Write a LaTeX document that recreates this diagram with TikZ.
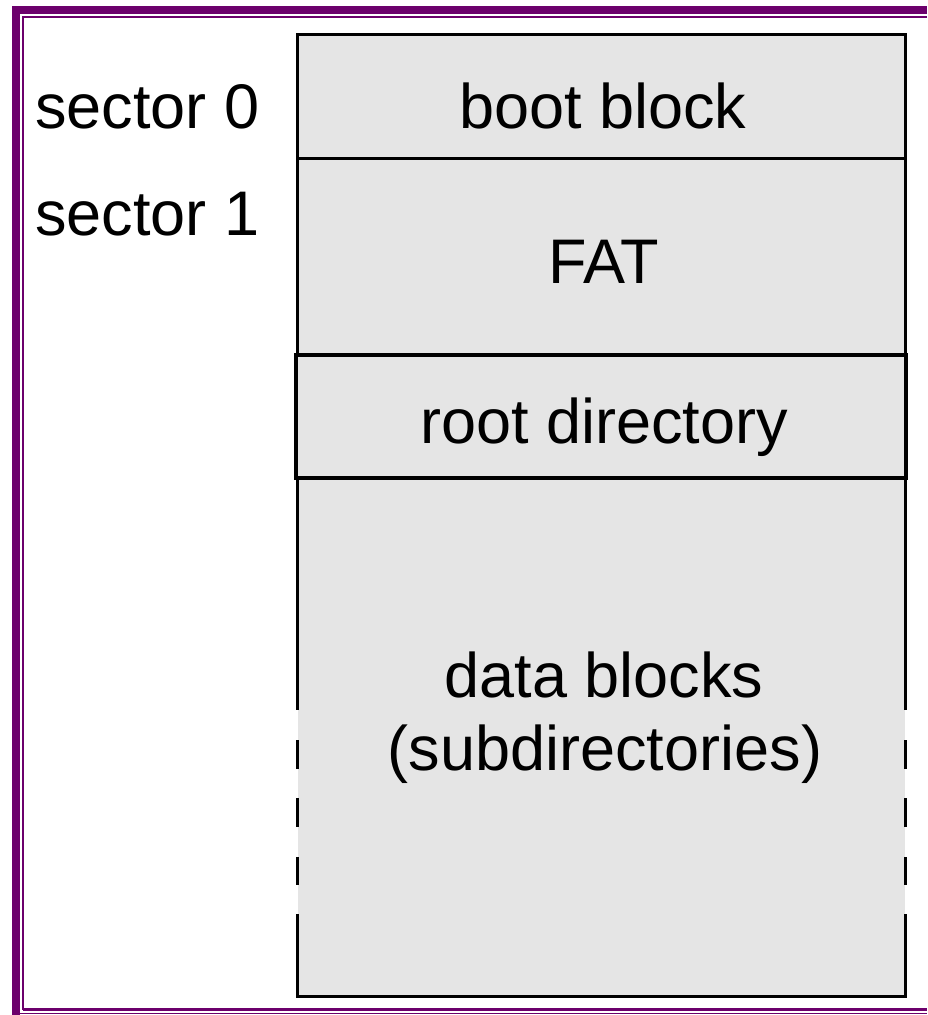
\documentclass[tikz,border=0pt]{standalone}
\usepackage{fontspec}
\setmainfont{Liberation Sans}
\definecolor{framepurple}{RGB}{108,0,108}
\definecolor{blockgray}{RGB}{229,229,229}
\tikzset{
  lbl/.style={inner sep=0pt, font=\fontsize{63}{72}\selectfont, anchor=base},
  side/.style={line width=3pt, draw=black},
  frm/.style={draw=framepurple}
}
\begin{document}
\begin{tikzpicture}[x=1pt,y=-1pt]
\useasboundingbox (0,0) rectangle (927,1015);
% frame
\draw[frm, line width=8pt] (16,1015) -- (16,9.5) -- (927,9.5);
\draw[frm, line width=2pt] (927,17) -- (23,17) -- (23,1009) -- (927,1009);
\draw[frm, line width=3pt] (23,1009) -- (927,1009);
\draw[frm, line width=1.8pt] (20,1013.5) -- (927,1013.5);
% main block
\fill[blockgray] (297.5,34) rectangle (905,996);
\draw[side, line cap=rect] (297.5,34) -- (905,34);
\draw[side, line cap=rect] (297.5,996) -- (905,996);
\draw[side] (297.5,158) -- (905,158);
\foreach \xx in {297.5,905}{
  \draw[side] (\xx,34) -- (\xx,710);
  \draw[side] (\xx,740) -- (\xx,769);
  \draw[side] (\xx,798) -- (\xx,827);
  \draw[side] (\xx,857) -- (\xx,885);
  \draw[side] (\xx,914) -- (\xx,996);
}
% root directory box
\draw[line width=4pt, fill=blockgray] (296,355) rectangle (906,478);
% labels
\node[lbl, anchor=base west] (s0) at (35,128) {sector 0};
\node[lbl, anchor=base west] (s1) at (35,235) {sector 1};
\node[lbl] (boot) at (603,128) {boot block};
\node[lbl] (fat) at (604,283) {FAT};
\node[lbl] (root) at (604,443) {root directory};
\node[lbl] (data) at (604,697) {data blocks};
\node[lbl] (sub) at (605,770) {(subdirectories)};
\end{tikzpicture}
\end{document}
